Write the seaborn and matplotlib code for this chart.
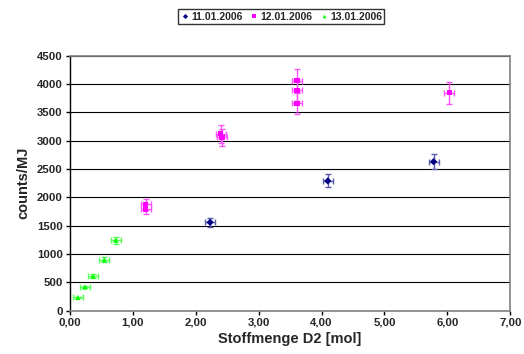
import numpy as np
import pandas as pd
import seaborn as sns
import matplotlib.pyplot as plt

# values
x_11 = [2.23, 4.10, 5.78]
y_11 = [1560, 2290, 2630]

x_12 = [1.21, 1.21, 2.40, 2.42, 3.61, 3.61, 3.61, 6.03]
y_12 = [1880, 1790, 3120, 3060, 4055, 3890, 3660, 3845]

x_13 = [0.13, 0.24, 0.37, 0.55, 0.73]
y_13 = [235, 420, 610, 900, 1245]

dates = ["11.01.2006", "12.01.2006", "13.01.2006"]
colors = ["#000080", "#FF00FF", "#00FF00"]
bar_colors = ["#5a5aaa", "#ff55ff", "#55ff55"]
markers = ["D", "s", "^"]
x_err = 0.08
y_err_rel = 0.05

df = pd.concat([
    pd.DataFrame({"x": x_11, "y": y_11, "date": dates[0]}),
    pd.DataFrame({"x": x_12, "y": y_12, "date": dates[1]}),
    pd.DataFrame({"x": x_13, "y": y_13, "date": dates[2]}),
], ignore_index=True)

sns.set_style("white")
plt.rcParams['font.family'] = ['Liberation Sans', 'DejaVu Sans']
plt.rcParams['font.weight'] = 'bold'

fig = plt.figure(figsize=(5.24, 3.54), dpi=100)
ax = fig.add_axes([0.133, 0.122, 0.841, 0.721])

# error bars first, markers on top
for d, c in zip(dates, bar_colors):
    sub = df[df["date"] == d]
    ax.errorbar(sub["x"], sub["y"], xerr=x_err, yerr=sub["y"] * y_err_rel,
                fmt="none", ecolor=c, elinewidth=1.0, capsize=2.5, capthick=1.0, zorder=2)

sns.scatterplot(data=df, x="x", y="y", hue="date", style="date",
                palette=dict(zip(dates, colors)), markers=dict(zip(dates, markers)),
                s=14, edgecolor="none", ax=ax, zorder=3)

ax.set_xlim(0, 7)
ax.set_ylim(0, 4500)
ax.set_xticks(np.arange(0, 7.01, 1))
ax.set_xticklabels([f"{v:.2f}".replace(".", ",") for v in np.arange(0, 7.01, 1)])
ax.set_yticks(np.arange(0, 4501, 500))
ax.tick_params(axis="both", labelsize=8.2, direction="out", length=3, width=1, color="black",
               bottom=True, left=True, pad=2)
for lab in ax.get_xticklabels() + ax.get_yticklabels():
    lab.set_fontweight("bold")

ax.grid(axis="y", color="black", linewidth=0.8)
ax.set_axisbelow(True)
for s in ["top", "right", "bottom"]:
    ax.spines[s].set_color("#808080")
    ax.spines[s].set_linewidth(1.2)
ax.spines["left"].set_color("black")
ax.spines["left"].set_linewidth(1.0)

ax.set_xlabel("Stoffmenge D2 [mol]", fontsize=10.5, fontweight="bold", labelpad=3)
ax.set_ylabel("counts/MJ", fontsize=10.5, fontweight="bold", labelpad=5)

handles, labels = ax.get_legend_handles_labels()
ax.legend(handles, labels, loc="center", bbox_to_anchor=(281 / 524, 1 - 16.5 / 354),
          bbox_transform=fig.transFigure, ncol=3, frameon=True, fancybox=False,
          edgecolor="black", prop={"weight": "bold", "size": 7.5},
          markerscale=0.7, handletextpad=0.1, columnspacing=0.6, borderpad=0.2,
          handlelength=1.0)
ax.get_legend().get_frame().set_linewidth(1.0)

fig.savefig("out.png", dpi=100)
